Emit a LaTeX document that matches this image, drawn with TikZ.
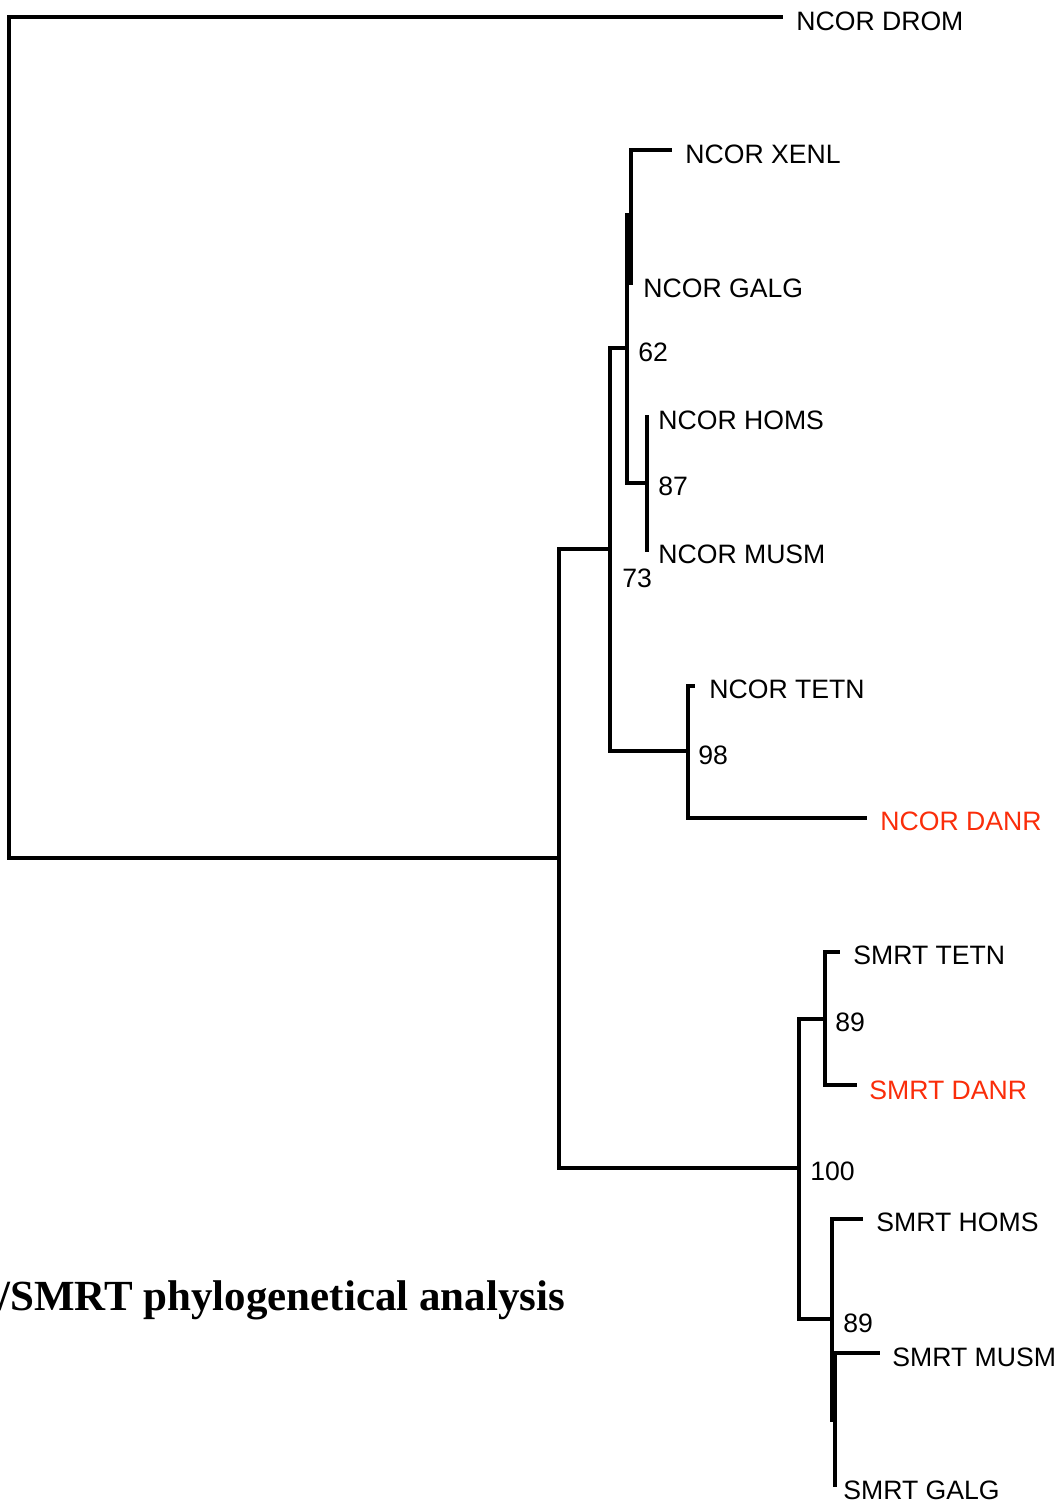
\documentclass[tikz,border=0pt]{standalone}
\usepackage{fontspec}
\setmainfont{Liberation Sans}
\newfontfamily\titlefont{Liberation Serif}
\usetikzlibrary{positioning}
\definecolor{TreeInk}{RGB}{0,0,0}
\definecolor{HiRed}{RGB}{250,45,10}
\tikzset{
  branch/.style={draw=TreeInk,line width=2pt},
  taxon/.style={anchor=west,inner sep=0pt,text=TreeInk,font=\fontsize{15.15}{17}\selectfont},
  taxonHi/.style={taxon,text=HiRed},
  boot/.style={anchor=west,inner sep=0pt,text=TreeInk,font=\fontsize{15.15}{17}\selectfont},
  heading/.style={anchor=base west,inner sep=0pt,text=TreeInk,font=\titlefont\bfseries\fontsize{24.45}{28}\selectfont}
}

\begin{document}
\begin{tikzpicture}[x=0.02cm,y=-0.02cm]
  \useasboundingbox (0,0) rectangle (1061,1506);
  % inner nodes of the tree
  \coordinate (root) at (9,437);
  \coordinate (nCS) at (559,858);
  \coordinate (n73) at (610,549);
  \coordinate (n62) at (627,348);
  \coordinate (nXG) at (631,215);
  \coordinate (n87) at (647,483);
  \coordinate (n98) at (688,751);
  \coordinate (n100) at (799,1168);
  \coordinate (n89a) at (825,1019);
  \coordinate (n89b) at (832,1319);
  \coordinate (nMG) at (835,1420);
  % branch tips
  \coordinate (tNDROM) at (783,17);
  \coordinate (tNXENL) at (672,150);
  \coordinate (tNGALG) at (631,285);
  \coordinate (tNHOMS) at (647,415);
  \coordinate (tNMUSM) at (647,552);
  \coordinate (tNTETN) at (695,686);
  \coordinate (tNDANR) at (867,818);
  \coordinate (tSTETN) at (840,952);
  \coordinate (tSDANR) at (857,1085);
  \coordinate (tSHOMS) at (863,1219);
  \coordinate (tSMUSM) at (880,1353);
  \coordinate (tSGALG) at (835,1487);
  \foreach \p/\c in {root/tNDROM,root/nCS,nCS/n73,nCS/n100,n73/n62,n73/n98,n62/nXG,n62/n87,nXG/tNXENL,nXG/tNGALG,n87/tNHOMS,n87/tNMUSM,n98/tNTETN,n98/tNDANR,n100/n89a,n100/n89b,n89a/tSTETN,n89a/tSDANR,n89b/tSHOMS,n89b/nMG,nMG/tSMUSM,nMG/tSGALG}{\draw[branch] (\p) |- (\c);}
  % taxa
  \node[taxon] (NDROM) at (796,21) {NCOR DROM};
  \node[taxon] (NXENL) at (685,154) {NCOR XENL};
  \node[taxon] (NGALG) at (643,288) {NCOR GALG};
  \node[taxon] (NHOMS) at (658,420) {NCOR HOMS};
  \node[taxon] (NMUSM) at (658,554) {NCOR MUSM};
  \node[taxon] (NTETN) at (709,689) {NCOR TETN};
  \node[taxonHi] (NDANR) at (880,821) {NCOR DANR};
  \node[taxon] (STETN) at (853,955) {SMRT TETN};
  \node[taxonHi] (SDANR) at (869,1090) {SMRT DANR};
  \node[taxon] (SHOMS) at (876,1222) {SMRT HOMS};
  \node[taxon] (SMUSM) at (892,1357) {SMRT MUSM};
  \node[taxon] (SGALG) at (843,1490) {SMRT GALG};
  % bootstrap values
  \node[boot] (b62) at (638,352) {62};
  \node[boot] (b87) at (658,486) {87};
  \node[boot] (b73) at (622,578) {73};
  \node[boot] (b98) at (698,755) {98};
  \node[boot] (b100) at (810,1171) {100};
  \node[boot] (b89a) at (835,1022) {89};
  \node[boot] (b89b) at (843,1323) {89};
  \node[heading] (head) at (-2,1310) {/SMRT phylogenetical analysis};
\end{tikzpicture}
\end{document}
